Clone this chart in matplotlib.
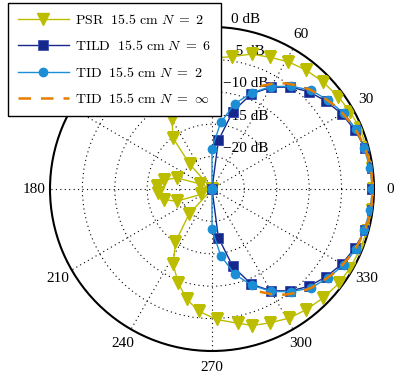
import matplotlib
matplotlib.use('Agg')
import matplotlib.pyplot as plt
import numpy as np

# polar pattern data (angle in degrees, level in dB)
step_theta = [0, 7.5, 15, 22.5, 30, 37.5, 45, 52.5, 60, 67.5, 75, 82.5,
              90, 97.5, 105, 112.5, 120, 127.5, 135, 142.5, 150, 157.5, 165, 172.5,
              180, 187.5, 195, 202.5, 210, 217.5, 225, 232.5, 240, 247.5, 255, 262.5,
              270, 277.5, 285, 292.5, 300, 307.5, 315, 322.5, 330, 337.5, 345, 352.5, 360]

tild_db = [-0.23, -0.15, -0.54, -1.16, -1.85, -2.78, -3.78, -5.17, -6.87, -9.10, -12.65, -17.44,
           -30, -30, -30, -30, -30, -30, -30, -30, -30, -30, -30, -30,
           -30, -30, -30, -30, -30, -30, -30, -30, -30, -30, -30, -30,
           -30, -17.44, -12.65, -9.10, -6.87, -5.17, -3.78, -2.78, -1.85, -1.16, -0.54, -0.15, -0.23]

tid_db = [-0.23, -0.39, -0.69, -0.93, -1.54, -2.47, -3.40, -5.02, -6.74, -8.92, -11.37, -14.61,
          -18.75, -30, -30, -30, -30, -30, -30, -30, -30, -30, -30, -30,
          -30, -30, -30, -30, -30, -30, -30, -30, -30, -30, -30, -30,
          -18.75, -14.61, -11.37, -8.92, -6.74, -5.02, -3.40, -2.47, -1.54, -0.93, -0.69, -0.39, -0.23]

psr_theta = [0, 7.4, 14.7, 22.3, 29.3, 36.2, 44.1, 51.7, 59, 66.2, 73.6, 81.5,
             89, 97, 104.5, 112, 119.7, 127.4, 132, 142, 157, 162.5, 169.6, 177,
             184, 192.3, 199, 205.6, 217, 227.7, 235.5, 242.8, 250.2, 257, 264,
             272, 280.8, 286.4, 293.6, 301, 308, 315.6, 323.3, 330, 337.5, 345, 352.5, 360]
psr_db = [-0.15, -0.15, -0.31, -0.31, -0.59, -0.86, -1.20, -1.60, -2.10, -2.79, -3.29, -4.35,
          -4.78, -6.02, -7.56, -9.57, -12.5, -15.12, -19.91, -30, -22.95, -19.26, -17.44, -16.53,
          -16.62, -17.39, -19.21, -23.04, -30, -19.68, -15.05, -11.9, -9.61, -7.56, -6.02,
          -4.85, -3.92, -3.04, -2.47, -1.78, -1.37, -0.99, -0.60, -0.46, -0.31, -0.23, -0.15, -0.15]

inf_theta = [-65, -60, -55, -50, -45, -40, -35, -30, -25, -20, -15, -10, -5,
             0, 5, 10, 15, 20, 25, 30, 35, 40, 45, 50, 55, 60, 65]
inf_db = [-7.5, -6.2, -5.1, -4.2, -3.4, -2.8, -2.2, -1.7, -1.2, -0.85, -0.55, -0.35, -0.25,
          -0.2, -0.25, -0.35, -0.55, -0.85, -1.2, -1.7, -2.2, -2.8, -3.4, -4.2, -5.1, -6.2, -7.5]

# 90, 120 and 150 sit behind the legend in the original, so they are not drawn
angle_ticks = [0, 30, 60, 180, 210, 240, 270, 300, 330]
angle_labels = ['0', '30', '60', '180', '210', '240', '270', '300', '330']
ring_labels = ['\u221220 dB', '\u221215 dB', '\u221210 dB', '\u22125 dB', '0 dB']
ring_values = [5, 10, 15, 20, 25]

labels = [r'$\mathrm{PSR\ \ 15.5\ cm}\ N\ =\ 2$',
          r'$\mathrm{TILD\ \ 15.5\ cm}\ N\ =\ 6$',
          r'$\mathrm{TID\ \ 15.5\ cm}\ N\ =\ 2$',
          r'$\mathrm{TID\ \ 15.5\ cm}\ N\ =\ \infty$']

plt.rcParams['mathtext.fontset'] = 'cm'
plt.rcParams['font.family'] = 'Liberation Serif'

def to_r(db):
    return np.clip(np.array(db), -25, 0) + 25

fig = plt.figure(figsize=(3.94, 3.74), dpi=100)
ax = fig.add_axes([0.1269, 0.0615, 0.8223, 0.8663], projection='polar')

ax.set_ylim(0, 25)
ax.set_yticks([5, 10, 15, 20])
ax.set_yticklabels([])
ax.set_xticks(np.deg2rad(np.arange(0, 360, 30)))
ax.set_xticklabels([])
ax.grid(True, color='k', linestyle=(0, (1, 3)), linewidth=0.8)
ax.spines['polar'].set_linewidth(1.5)

l1, = ax.plot(np.deg2rad(psr_theta), to_r(psr_db), color='#BDBD00', lw=1.0,
              marker='v', ms=8, mfc='#BDBD00', mec='#BDBD00', zorder=3)
l2, = ax.plot(np.deg2rad(step_theta), to_r(tild_db), color='#15288C', lw=1.0,
              marker='s', ms=6.5, mfc='#15288C', mec='#4050b0', mew=0.6, zorder=4)
l3, = ax.plot(np.deg2rad(step_theta), to_r(tid_db), color='#1C8ED6', lw=1.0,
              marker='o', ms=6, mfc='#1C8ED6', mec='#1C8ED6', zorder=5)
l4, = ax.plot(np.deg2rad(inf_theta), to_r(inf_db), color='#E67E00', lw=1.8,
              linestyle=(0, (5, 4)), zorder=6)

# angle labels around the circle
for a, lab in zip(angle_ticks, angle_labels):
    ax.text(np.deg2rad(a), 27.5, lab, ha='center', va='center', fontsize=11,
            clip_on=False)

# dB ring labels
for rv, lab in zip(ring_values, ring_labels):
    ax.annotate(lab, xy=(np.pi / 2, rv), xytext=(34, 8), textcoords='offset pixels',
                ha='center', va='center', fontsize=11, annotation_clip=False, zorder=1)

leg = fig.legend([l1, l2, l3, l4], labels, loc='upper left',
                 bbox_to_anchor=(0.02, 0.992), borderaxespad=0, fontsize=10,
                 fancybox=False, framealpha=1, edgecolor='k', handlelength=3.7,
                 handletextpad=0.45, labelspacing=0.9, borderpad=0.7)
leg.get_frame().set_linewidth(1.0)

plt.savefig('out.png', dpi=100)
plt.close()
